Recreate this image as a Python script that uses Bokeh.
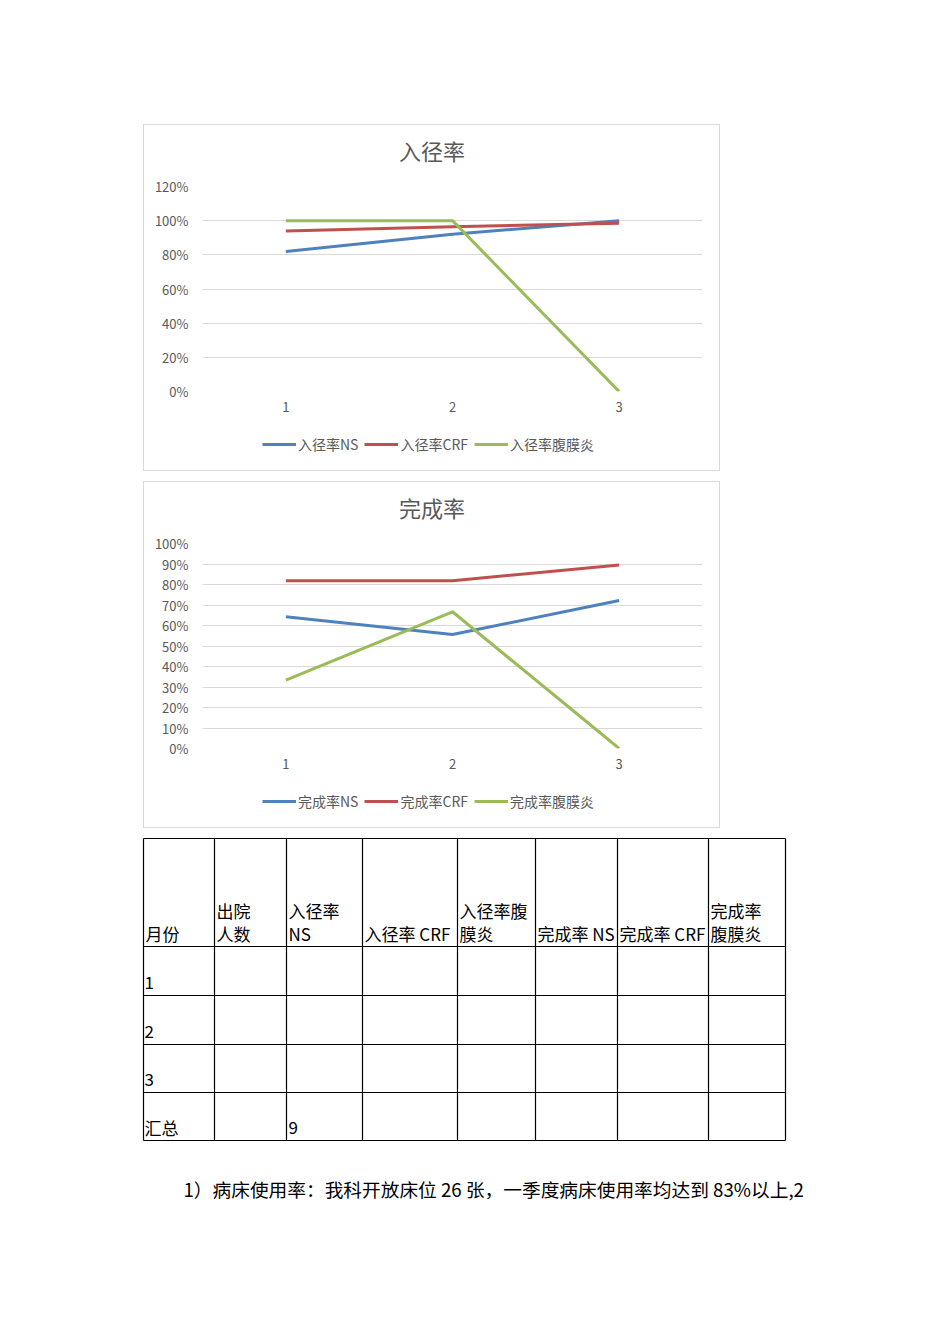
from bokeh.plotting import figure
from bokeh.models import Range1d, FixedTicker, NumeralTickFormatter, Legend, LegendItem, Spacer
from bokeh.layouts import column, row
from bokeh.embed import file_html
from bokeh.resources import INLINE
from bokeh.core.properties import value

# ---------------- data ----------------
months = [1, 2, 3]
month_labels = ["1", "2", "3"]

entry_title = "入径率"
entry_names = ["入径率NS", "入径率CRF", "入径率腹膜炎"]
entry_ns = [0.82, 0.92, 1.00]
entry_crf = [0.94, 0.965, 0.985]
entry_perit = [1.00, 1.00, 0.00]
entry_ticks = [0.0, 0.2, 0.4, 0.6, 0.8, 1.0, 1.2]

done_title = "完成率"
done_names = ["完成率NS", "完成率CRF", "完成率腹膜炎"]
done_ns = [0.643, 0.556, 0.722]
done_crf = [0.818, 0.818, 0.895]
done_perit = [0.333, 0.667, 0.0]
done_ticks = [0.0, 0.1, 0.2, 0.3, 0.4, 0.5, 0.6, 0.7, 0.8, 0.9, 1.0]

series_colors = ["#4f81bd", "#c0504d", "#9bbb59"]

table_header = [["月份"], ["出院", "人数"], ["入径率", "NS"], ["入径率 CRF"],
                ["入径率腹", "膜炎"], ["完成率 NS"], ["完成率 CRF"], ["完成率", "腹膜炎"]]
table_rows = ["1", "2", "3", "汇总"]
table_values = [["", "", "", "", "", "", ""],
                ["", "", "", "", "", "", ""],
                ["", "", "", "", "", "", ""],
                ["", "9", "", "", "", "", ""]]

note_text = "1）病床使用率：我科开放床位 26 张，一季度病床使用率均达到 83%以上,2"

# ---------------- styling / layout constants ----------------
CH_FONT = "Noto Sans CJK SC"
GRAY = "#595959"
BOX_GRAY = "#d9d9d9"
BOX_W = 575
TITLE_H, PLOT_H, LEG_H = 51, 245, 49
BL, BR, BT, BB = 58, 17, 10, 30


def strip_fig(h):
    # frames in one column are aligned, so give the strips the same side borders
    f = figure(width=BOX_W, height=h, x_range=Range1d(BL, BOX_W - BR), y_range=Range1d(h, 0),
               output_backend="svg", toolbar_location=None, min_border=0,
               min_border_left=BL, min_border_right=BR, min_border_top=0, min_border_bottom=0,
               x_axis_type=None, y_axis_type=None)
    f.grid.visible = False
    f.outline_line_color = None
    return f


def make_chart(title, names, series, ticks):
    ymax = ticks[-1]
    # title strip
    t = strip_fig(TITLE_H)
    t.text(x=[BOX_W / 2], y=[24], text=[title], text_font=value(CH_FONT),
           text_font_size="22px", text_color=GRAY, text_align="center",
           text_baseline="middle")

    # plot
    p = figure(width=BOX_W, height=PLOT_H, x_range=Range1d(0.5, 3.5),
               y_range=Range1d(0, ymax), output_backend="svg", toolbar_location=None,
               min_border_left=BL, min_border_right=BR, min_border_top=BT,
               min_border_bottom=BB)
    p.outline_line_color = None
    p.xgrid.visible = False
    p.ygrid.ticker = FixedTicker(ticks=ticks)
    p.ygrid.grid_line_color = BOX_GRAY
    p.ygrid.grid_line_width = 1

    p.yaxis.ticker = FixedTicker(ticks=ticks)
    p.yaxis.formatter = NumeralTickFormatter(format="0%")
    p.xaxis.ticker = FixedTicker(ticks=months)
    p.xaxis.major_label_overrides = {m: l for m, l in zip(months, month_labels)}
    for ax in (p.xaxis[0], p.yaxis[0]):
        ax.axis_line_color = None
        ax.major_tick_line_color = None
        ax.minor_tick_line_color = None
        ax.major_label_text_color = GRAY
        ax.major_label_text_font = CH_FONT
        ax.major_label_text_font_size = "13px"
    p.yaxis.major_label_standoff = 8
    p.xaxis.major_label_standoff = 4

    for vals, color in zip(series, series_colors):
        p.line(months, vals, line_width=3, line_color=color)

    # legend strip: its renderers carry the series, which fall outside the
    # strip's own range, so only the legend swatches show
    lg = strip_fig(LEG_H)
    items = []
    for name, vals, color in zip(names, series, series_colors):
        r = lg.line(months, vals, line_width=3, line_color=color)
        items.append(LegendItem(label=name, renderers=[r]))
    legend = Legend(items=items, orientation="horizontal", location=(60, 16),
                    padding=0, margin=0, spacing=6, glyph_width=34, glyph_height=16,
                    label_height=20, label_standoff=2, label_text_font_size="14px",
                    label_text_color=GRAY, label_text_font=CH_FONT,
                    background_fill_alpha=0, border_line_color=None)
    lg.add_layout(legend)

    line = {"background-color": BOX_GRAY}
    inner_h = TITLE_H + PLOT_H + LEG_H
    return column(Spacer(width=BOX_W + 2, height=1, styles=line),
                  row(Spacer(width=1, height=inner_h, styles=line),
                      column(t, p, lg),
                      Spacer(width=1, height=inner_h, styles=line)),
                  Spacer(width=BOX_W + 2, height=1, styles=line))


c1 = make_chart(entry_title, entry_names, [entry_ns, entry_crf, entry_perit], entry_ticks)
c2 = make_chart(done_title, done_names, [done_ns, done_crf, done_perit], done_ticks)

# ---------------- table + note ----------------
PAGE_TOP = 828
tb = figure(width=934, height=508, x_range=Range1d(0, 934), y_range=Range1d(PAGE_TOP + 508, PAGE_TOP),
            output_backend="svg", toolbar_location=None, min_border=0,
            x_axis_type=None, y_axis_type=None)
tb.grid.visible = False
tb.outline_line_color = None

col_edges = [143, 214, 286, 362, 457, 535, 617, 708, 785]
row_edges = [838, 946, 995, 1044, 1092, 1140]
tb.segment(x0=[col_edges[0]] * len(row_edges), x1=[col_edges[-1]] * len(row_edges),
           y0=row_edges, y1=row_edges, line_color="black", line_width=1.2)
tb.segment(x0=col_edges, x1=col_edges, y0=[row_edges[0]] * len(col_edges),
           y1=[row_edges[-1]] * len(col_edges), line_color="black", line_width=1.2)

LINE_H = 23
tx, ty, tt = [], [], []
for ci, lines in enumerate(table_header):
    n = len(lines)
    for li, s in enumerate(lines):
        tx.append(col_edges[ci] + 2)
        ty.append(row_edges[1] - 13 - (n - 1 - li) * LINE_H)
        tt.append(s)
for ri, lab in enumerate(table_rows):
    yb = row_edges[ri + 2] - 13
    tx.append(col_edges[0] + 1); ty.append(yb); tt.append(lab)
    for ci, v in enumerate(table_values[ri]):
        if v:
            tx.append(col_edges[ci + 1] + 2); ty.append(yb); tt.append(v)
tb.text(x=tx, y=ty, text=tt, text_font=value(CH_FONT), text_font_size="17px",
        text_baseline="middle", text_align="left", text_color="black")

tb.text(x=[183], y=[1188], text=[note_text], text_font=value(CH_FONT),
        text_font_size="18.7px", text_baseline="middle", text_align="left",
        text_color="black")

layout = column(Spacer(height=124),
                row(Spacer(width=143), c1),
                Spacer(height=10),
                row(Spacer(width=143), c2),
                tb)

open("out.html", "w").write(file_html(layout, INLINE))
